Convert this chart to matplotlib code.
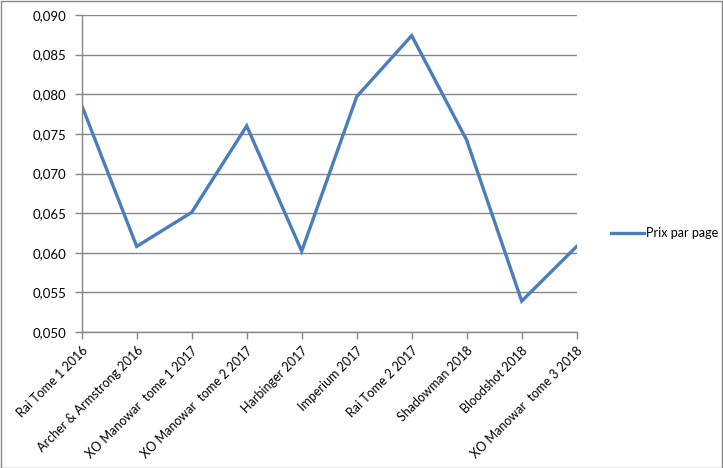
import matplotlib.pyplot as plt
from matplotlib.patches import Rectangle
from matplotlib.ticker import FuncFormatter

titres = ["Rai Tome 1 2016", "Archer & Armstrong 2016", "XO Manowar  tome 1 2017",
          "XO Manowar  tome 2 2017", "Harbinger 2017", "Imperium 2017",
          "Rai Tome 2 2017", "Shadowman 2018", "Bloodshot 2018",
          "XO Manowar  tome 3 2018"]
prix_par_page = [0.0786, 0.0608, 0.0651, 0.0760, 0.0602, 0.0797,
                 0.0874, 0.0742, 0.0539, 0.0608]
y_ticks = [0.050, 0.055, 0.060, 0.065, 0.070, 0.075, 0.080, 0.085, 0.090]

plt.rcParams['font.family'] = ['Lato', 'DejaVu Sans']

W, H = 723, 468
fig = plt.figure(figsize=(W / 100, H / 100), dpi=100)
ax = fig.add_axes([81.7 / W, 1 - 332 / H, (576.7 - 81.7) / W, (332 - 15) / H])

x = range(len(titres))
ax.plot(x, prix_par_page, color="#4A7EBB", linewidth=2.4, label="Prix par page",
        solid_joinstyle="miter")

ax.set_xlim(0, len(titres) - 1)
ax.set_ylim(0.050, 0.090)
ax.set_yticks(y_ticks)
ax.yaxis.set_major_formatter(FuncFormatter(lambda v, p: f"{v:.3f}".replace(".", ",")))
ax.set_xticks(list(x))
ax.set_xticklabels(titres, rotation=45, ha="right", rotation_mode="anchor")
ax.grid(axis="y", color="#868686", linewidth=1)
ax.set_axisbelow(True)

for s in ["top", "right"]:
    ax.spines[s].set_visible(False)
for s in ["left", "bottom"]:
    ax.spines[s].set_color("#868686")
    ax.spines[s].set_linewidth(1)
ax.tick_params(axis="both", colors="#868686", length=5, width=1, labelsize=9,
               labelcolor="black")
ax.tick_params(axis="x", pad=4)
ax.tick_params(axis="y", pad=6, labelsize=9.5)

fig.legend(loc="center left", bbox_to_anchor=(600 / W, 1 - 233 / H), frameon=False,
           fontsize=9, handlelength=2.6, handletextpad=0.2)

fig.patches.append(Rectangle((0.5 / W, 0.5 / H), 1 - 1.5 / W, 1 - 1.5 / H,
                             transform=fig.transFigure, fill=False,
                             edgecolor="#868686", linewidth=1))

fig.savefig("out.png", dpi=100)
